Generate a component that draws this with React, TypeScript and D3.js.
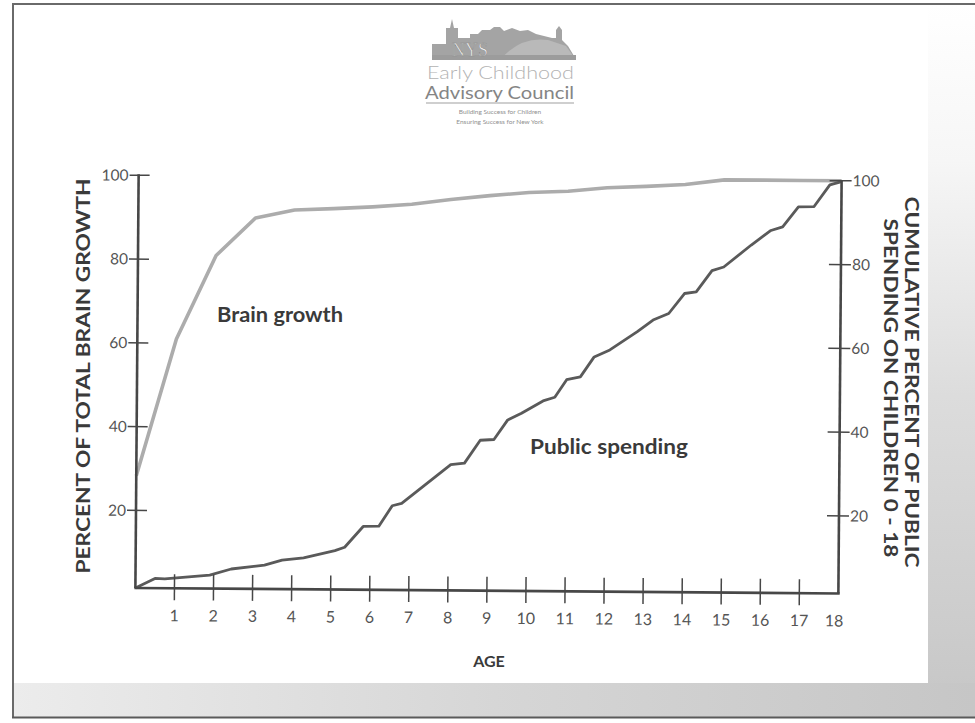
import React from "react";
import * as d3 from "d3";

// ---- data ----
const xTickLabels = [1, 2, 3, 4, 5, 6, 7, 8, 9, 10, 11, 12, 13, 14, 15, 16, 17, 18];
const yTickLabels = [20, 40, 60, 80, 100];

const brainAges = [0, 1, 2, 3, 4, 5, 6, 7, 8, 9, 10, 11, 12, 13, 14, 15, 16, 17, 18];
const brainValues = [28.3, 61, 81, 90, 92, 92.4, 92.9, 93.6, 94.8, 95.8, 96.6, 97, 97.9, 98.3, 98.8, 100, 100, 100, 100];

const spendingAges = [
  0, 0.5, 0.75, 1.9, 2.45, 3.3, 3.75, 4.3, 5.1, 5.35, 5.82, 6.22, 6.56, 6.8, 8.05, 8.4, 8.8, 9.15, 9.5,
  9.85, 10.4, 10.7, 11.0, 11.35, 11.7, 12.1, 12.8, 13.2, 13.6, 14.0, 14.3, 14.7, 15.0, 15.7, 16.2, 16.5,
  16.9, 17.3, 17.7, 18.0,
];
const spendingValues = [
  1.5, 3.8, 3.7, 4.7, 6.2, 7.2, 8.4, 9.0, 10.8, 11.6, 16.6, 16.7, 21.6, 22.2, 31.5, 31.9, 37.4, 37.6, 42.3,
  43.9, 46.9, 47.8, 52.0, 52.7, 57.5, 59.2, 63.6, 66.4, 68.0, 72.8, 73.2, 78.3, 79.2, 84.5, 88.0, 88.9,
  93.7, 93.8, 99.0, 99.8,
];

const AXIS_BASE = 1.5;

const W = 975;
const H = 723;
const LEFT = 137;
const RIGHT = 840;

export default function App() {
  const x = d3.scaleLinear().domain([0, 18]).range([LEFT, RIGHT]);
  const y = d3.scaleLinear().domain([0, 100]).range([597, 178]);

  const line = d3
    .line<[number, number]>()
    .x((d) => x(d[0]))
    .y((d) => y(d[1]))
    .curve(d3.curveLinear);

  const brainPts = brainAges.map((a, i) => [a, brainValues[i]] as [number, number]);
  const spendPts = spendingAges.map((a, i) => [a, spendingValues[i]] as [number, number]);

  const yBase = y(AXIS_BASE);
  const yTop = y(100);
  const axisColor = "#474747";
  const tickFont = "Lato, 'Open Sans', sans-serif";

  return (
    <svg
      width={W}
      height={H}
      viewBox={`0 0 ${W} ${H}`}
      style={{ position: "absolute", left: 0, top: 0, display: "block" }}
    >
      <defs>
        <linearGradient id="gR" x1="0" y1="0" x2="0" y2="1">
          <stop offset="0" stopColor="#ffffff" />
          <stop offset="0.22" stopColor="#f6f6f6" />
          <stop offset="0.55" stopColor="#dcdcdc" />
          <stop offset="1" stopColor="#c6c6c6" />
        </linearGradient>
        <linearGradient id="gB" x1="0" y1="0" x2="1" y2="0">
          <stop offset="0" stopColor="#ececec" />
          <stop offset="0.5" stopColor="#d6d6d6" />
          <stop offset="1" stopColor="#c6c6c6" />
        </linearGradient>
      </defs>

      {/* page background */}
      <rect x={0} y={0} width={W} height={H} fill="#ffffff" />
      <rect x={928} y={4} width={W - 928} height={713} fill="url(#gR)" />
      <rect x={13} y={683} width={W - 13} height={34} fill="url(#gB)" />
      <line x1={12} y1={4} x2={W} y2={4} stroke="#6a6a6a" strokeWidth={2} />
      <line x1={13} y1={4} x2={13} y2={718} stroke="#6a6a6a" strokeWidth={2} />
      <line x1={12} y1={717.5} x2={W} y2={717.5} stroke="#5a5a5a" strokeWidth={2} />

      {/* logo */}
      <g>
        <path
          d="M432,60 L432,44 L446,44 L446,28 L450,28 L452,19 L454,28 L458,28 L458,38 L470,38 L470,34 L478,34 L482,30 L490,30 L494,27 L500,27 L504,31 L512,28 L520,31 L528,30 L536,34 L544,36 L552,38 L556,38 L556,30 L559,26 L562,30 L562,40 L568,46 L574,56 L576,60 Z"
          fill="#a4a4a4"
        />
        <path d="M500,60 Q520,36 548,40 L566,46 L576,60 Z" fill="#b9b9b9" />
        <rect x={432} y={55} width={144} height={5} fill="#9c9c9c" />
        <text
          x={470}
          y={56}
          textAnchor="middle"
          fontFamily="'Liberation Serif', serif"
          fontSize={18}
          fill="#f2f2f2"
          stroke="#8e8e8e"
          strokeWidth={0.6}
        >
          NYS
        </text>
        <text x={427} y={79} fontFamily={tickFont} fontWeight={300} fontSize={17} fill="#b3b3b3" textLength={147} lengthAdjust="spacingAndGlyphs">
          Early Childhood
        </text>
        <text x={425} y={98.5} fontFamily={tickFont} fontWeight={400} fontSize={16.5} fill="#858585" textLength={149} lengthAdjust="spacingAndGlyphs">
          Advisory Council
        </text>
        <line x1={426} y1={103} x2={574} y2={103} stroke="#a0a0a0" strokeWidth={1.2} />
        <text x={500} y={114} textAnchor="middle" fontFamily={tickFont} fontSize={6.5} fill="#8f8f8f">
          Building Success for Children
        </text>
        <text x={500} y={123.5} textAnchor="middle" fontFamily={tickFont} fontSize={6.5} fill="#8f8f8f">
          Ensuring Success for New York
        </text>
      </g>

      {/* plot (slightly rotated, as in the photographed slide) */}
      <g transform="rotate(0.45, 488, 385)">
        {/* data lines */}
        <path d={line(brainPts) || ""} fill="none" stroke="#acacac" strokeWidth={3.6} strokeLinejoin="round" />
        <path d={line(spendPts) || ""} fill="none" stroke="#5a5a5a" strokeWidth={2.8} strokeLinejoin="round" />

        {/* axes */}
        <line x1={LEFT} y1={yTop - 1} x2={LEFT} y2={yBase} stroke={axisColor} strokeWidth={2.6} />
        <line x1={RIGHT} y1={yTop} x2={RIGHT} y2={yBase} stroke={axisColor} strokeWidth={2.6} />
        <line x1={LEFT - 1} y1={yBase} x2={RIGHT + 1.3} y2={yBase} stroke={axisColor} strokeWidth={2.6} />

        {/* y ticks */}
        {yTickLabels.map((v) => (
          <g key={"yl" + v}>
            <line x1={LEFT - 9} y1={y(v)} x2={LEFT + 11} y2={y(v)} stroke={axisColor} strokeWidth={1.5} />
            <text
              x={LEFT - 10}
              y={y(v)}
              dy="0.35em"
              textAnchor="end"
              fontFamily={tickFont}
              fontSize={15.5}
              fill="#555"
            >
              {v}
            </text>
            <line x1={RIGHT - 12} y1={y(v)} x2={RIGHT + 10} y2={y(v)} stroke={axisColor} strokeWidth={1.5} />
            <text x={RIGHT + 11} y={y(v)} dy="0.35em" textAnchor="start" fontFamily={tickFont} fontSize={15.5} fill="#555">
              {v}
            </text>
          </g>
        ))}

        {/* x ticks */}
        {xTickLabels.map((a) => (
          <g key={"xl" + a}>
            {a < 18 && (
              <line x1={x(a)} y1={yBase - 14} x2={x(a)} y2={yBase + 12} stroke={axisColor} strokeWidth={1.5} />
            )}
            <text
              x={x(a) - (a === 18 ? 4 : 0)}
              y={yBase + 33}
              textAnchor="middle"
              fontFamily={tickFont}
              fontSize={16}
              fill="#555"
            >
              {a}
            </text>
          </g>
        ))}
      </g>

      {/* axis titles */}
      <text
        transform="translate(82,376) rotate(-90)"
        textAnchor="middle"
        dominantBaseline="central"
        fontFamily={tickFont}
        fontWeight={700}
        fontSize={19}
        fill="#3a3a3a"
        textLength={395}
        lengthAdjust="spacingAndGlyphs"
      >
        PERCENT OF TOTAL BRAIN GROWTH
      </text>
      <text
        transform="translate(912,382) rotate(90)"
        textAnchor="middle"
        dominantBaseline="central"
        fontFamily={tickFont}
        fontWeight={700}
        fontSize={19}
        fill="#3a3a3a"
        textLength={371}
        lengthAdjust="spacingAndGlyphs"
      >
        CUMULATIVE PERCENT OF PUBLIC
      </text>
      <text
        transform="translate(891,388) rotate(90)"
        textAnchor="middle"
        dominantBaseline="central"
        fontFamily={tickFont}
        fontWeight={700}
        fontSize={19}
        fill="#3a3a3a"
        textLength={339}
        lengthAdjust="spacingAndGlyphs"
      >
        SPENDING ON CHILDREN 0 - 18
      </text>
      <text
        x={489}
        y={660}
        textAnchor="middle"
        dominantBaseline="central"
        fontFamily={tickFont}
        fontWeight={700}
        fontSize={16}
        fill="#3a3a3a"
      >
        AGE
      </text>

      {/* series labels */}
      <text x={217} y={313} dominantBaseline="central" fontFamily={tickFont} fontWeight={700} fontSize={21} fill="#3a3a3a" textLength={126} lengthAdjust="spacingAndGlyphs">
        Brain growth
      </text>
      <text x={530} y={445} dominantBaseline="central" fontFamily={tickFont} fontWeight={700} fontSize={21} fill="#3a3a3a" textLength={158} lengthAdjust="spacingAndGlyphs">
        Public spending
      </text>
    </svg>
  );
}
